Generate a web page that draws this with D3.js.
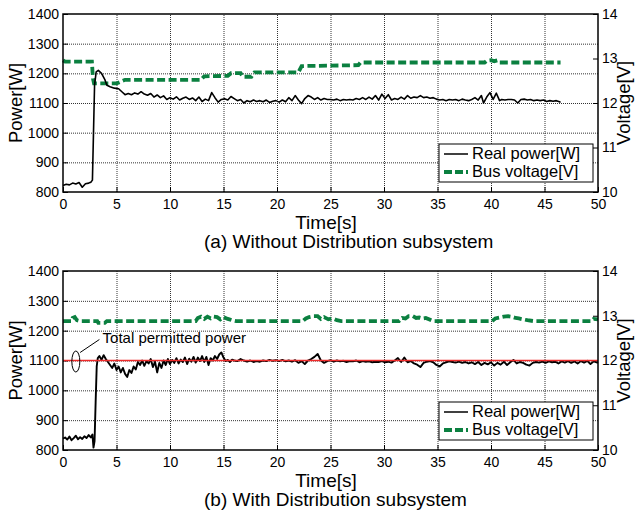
<!DOCTYPE html>
<meta charset="utf-8">
<style>
    body { margin: 0; background: #fff; }
    text { font-family: "Liberation Sans", Arial, sans-serif; fill: #000; }
    .grid line { stroke: #333; stroke-width: 1; stroke-dasharray: 1, 1; }
    .grid path { stroke-width: 0; }
    .axis path { stroke-width: 0; }
    .axis line { stroke: #000; stroke-width: 1; }
    .axis text { font-size: 14px; }
</style>

<body>
    <svg width="635" height="514"></svg>
</body>

<script src="https://d3js.org/d3.v7.min.js"></script>
<script>

    // ticks
    var timeTicks = [0, 5, 10, 15, 20, 25, 30, 35, 40, 45, 50];
    var powerTicks = [800, 900, 1000, 1100, 1200, 1300, 1400];
    var voltTicks = [10, 11, 12, 13, 14];
    var permittedPower = 1100;

    // (a) real power [t, W]
    var powerA = [
        [0, 822], [0.3, 826], [0.6, 824], [0.9, 830], [1.2, 827], [1.5, 832], [1.8, 816], [2.1, 828], [2.4, 830], [2.6, 833],
        [2.75, 840], [2.85, 1000], [2.95, 1160], [3.1, 1205], [3.3, 1210], [3.6, 1200], [3.9, 1180], [4.1, 1160], [4.4, 1155], [4.8, 1150],
        [5.2, 1148], [5.5, 1138], [5.8, 1128], [6.1, 1132], [6.4, 1128], [6.7, 1134], [7.0, 1130], [7.3, 1138], [7.6, 1130], [7.9, 1126],
        [8.2, 1132], [8.5, 1120], [8.8, 1127], [9.1, 1118], [9.4, 1124], [9.7, 1112], [10.0, 1118], [10.3, 1113], [10.6, 1121], [10.9, 1110],
        [11.2, 1116], [11.5, 1120], [11.8, 1112], [12.1, 1117], [12.4, 1108], [12.7, 1120], [13.0, 1105], [13.3, 1113], [13.6, 1108], [13.9, 1135],
        [14.2, 1118], [14.5, 1103], [14.8, 1112], [15.1, 1114], [15.4, 1110], [15.7, 1122], [16.0, 1115], [16.3, 1108], [16.6, 1112], [16.9, 1100],
        [17.2, 1108], [17.5, 1104], [17.8, 1110], [18.1, 1105], [18.4, 1108], [18.7, 1104], [19.0, 1110], [19.3, 1102], [19.6, 1106], [19.9, 1108],
        [20.2, 1103], [20.5, 1110], [20.8, 1104], [21.1, 1118], [21.4, 1108], [21.7, 1125], [22.0, 1110], [22.3, 1098], [22.6, 1115], [22.9, 1125],
        [23.2, 1120], [23.5, 1112], [23.8, 1118], [24.1, 1110], [24.4, 1115], [24.7, 1112], [25.0, 1112], [25.3, 1110], [25.6, 1113], [25.9, 1108],
        [26.2, 1112], [26.5, 1110], [26.8, 1112], [27.1, 1110], [27.4, 1115], [27.7, 1112], [28.0, 1118], [28.3, 1112], [28.6, 1120], [28.9, 1113],
        [29.2, 1125], [29.5, 1110], [29.8, 1130], [30.1, 1115], [30.4, 1128], [30.7, 1110], [31.0, 1115], [31.3, 1112], [31.6, 1120], [31.9, 1113],
        [32.2, 1125], [32.5, 1116], [32.8, 1120], [33.1, 1118], [33.4, 1125], [33.7, 1118], [34.0, 1120], [34.3, 1116], [34.6, 1118], [34.9, 1113],
        [35.2, 1110], [35.5, 1112], [35.8, 1108], [36.1, 1112], [36.4, 1110], [36.7, 1112], [37.0, 1108], [37.3, 1113], [37.6, 1110], [37.9, 1108],
        [38.2, 1112], [38.5, 1118], [38.8, 1110], [39.1, 1125], [39.3, 1100], [39.6, 1120], [39.9, 1135], [40.2, 1112], [40.5, 1133], [40.8, 1108],
        [41.0, 1112], [41.3, 1110], [41.6, 1112], [41.9, 1112], [42.2, 1110], [42.5, 1100], [42.8, 1112], [43.1, 1113], [43.4, 1110], [43.7, 1112],
        [44.0, 1108], [44.3, 1110], [44.6, 1108], [44.9, 1110], [45.2, 1105], [45.5, 1108], [45.8, 1106], [46.1, 1108], [46.4, 1104], [46.5, 1102]
    ];

    // (a) bus voltage [t, V]
    var voltageA = [
        [0, 12.96], [0.2, 12.93], [2.7, 12.93], [2.8, 12.55], [2.9, 12.44], [5.0, 12.44], [5.4, 12.48], [5.8, 12.52],
        [12.9, 12.52], [13.2, 12.6], [15.4, 12.61], [15.7, 12.67], [16.6, 12.67], [16.8, 12.59], [17.6, 12.59], [17.9, 12.69],
        [22.0, 12.69], [22.3, 12.83], [27.6, 12.85], [27.8, 12.91], [39.4, 12.91], [39.6, 12.95], [40.0, 12.96], [40.3, 12.94],
        [40.6, 12.96], [40.8, 12.91], [46.5, 12.91]
    ];

    // (b) real power [t, W]
    var powerB = [
        [0, 838], [0.2, 842], [0.4, 835], [0.6, 845], [0.8, 833], [1.0, 840], [1.2, 848], [1.4, 836], [1.6, 843], [1.8, 837],
        [2.0, 846], [2.2, 840], [2.4, 850], [2.6, 842], [2.75, 852], [2.85, 808], [2.95, 830], [3.05, 960], [3.15, 1080], [3.25, 1108],
        [3.4, 1115], [3.6, 1102], [3.8, 1118], [4.0, 1105], [4.2, 1095], [4.4, 1085], [4.6, 1075], [4.8, 1090], [5.0, 1068], [5.2, 1080],
        [5.4, 1060], [5.6, 1075], [5.8, 1055], [6.0, 1045], [6.2, 1068], [6.4, 1058], [6.6, 1080], [6.8, 1070], [7.0, 1095], [7.2, 1085],
        [7.4, 1100], [7.6, 1082], [7.8, 1098], [8.0, 1090], [8.2, 1105], [8.4, 1078], [8.6, 1096], [8.8, 1060], [9.0, 1092], [9.2, 1075],
        [9.4, 1100], [9.6, 1085], [9.8, 1105], [10.0, 1088], [10.2, 1102], [10.4, 1092], [10.6, 1108], [10.8, 1090], [11.0, 1103], [11.2, 1095],
        [11.4, 1110], [11.6, 1088], [11.8, 1106], [12.0, 1096], [12.2, 1112], [12.4, 1093], [12.6, 1110], [12.8, 1098], [13.0, 1115], [13.2, 1095],
        [13.4, 1112], [13.6, 1085], [13.8, 1108], [14.0, 1100], [14.2, 1115], [14.4, 1105], [14.6, 1120], [14.8, 1127], [15.0, 1110], [15.2, 1098],
        [15.4, 1102], [15.6, 1095], [15.8, 1103], [16.0, 1100], [16.3, 1098], [16.6, 1105], [16.9, 1100], [17.2, 1096], [17.5, 1100], [17.8, 1095],
        [18.1, 1098], [18.4, 1096], [18.7, 1100], [19.0, 1098], [19.3, 1102], [19.6, 1099], [19.9, 1101], [20.2, 1098], [20.5, 1102], [20.8, 1097],
        [21.1, 1100], [21.4, 1096], [21.7, 1101], [22.0, 1092], [22.3, 1098], [22.6, 1088], [22.9, 1100], [23.2, 1105], [23.5, 1112], [23.8, 1122],
        [24.1, 1100], [24.4, 1092], [24.7, 1098], [25.0, 1101], [25.3, 1096], [25.6, 1100], [25.9, 1097], [26.2, 1099], [26.5, 1095], [26.8, 1098],
        [27.1, 1097], [27.4, 1100], [27.7, 1094], [28.0, 1098], [28.3, 1096], [28.6, 1097], [28.9, 1094], [29.2, 1096], [29.5, 1095], [29.8, 1098],
        [30.1, 1094], [30.4, 1096], [30.7, 1093], [31.0, 1100], [31.3, 1108], [31.6, 1095], [31.9, 1110], [32.2, 1094], [32.5, 1098], [32.8, 1090],
        [33.1, 1086], [33.4, 1078], [33.7, 1092], [34.0, 1096], [34.3, 1098], [34.6, 1094], [34.9, 1085], [35.2, 1080], [35.5, 1090], [35.8, 1094],
        [36.1, 1097], [36.4, 1095], [36.7, 1093], [37.0, 1096], [37.3, 1092], [37.6, 1095], [37.9, 1090], [38.2, 1094], [38.5, 1088], [38.8, 1095],
        [39.1, 1085], [39.4, 1092], [39.7, 1087], [40.0, 1094], [40.3, 1083], [40.6, 1092], [40.9, 1086], [41.2, 1096], [41.5, 1085], [41.8, 1094],
        [42.1, 1102], [42.4, 1090], [42.7, 1095], [43.0, 1092], [43.3, 1086], [43.6, 1083], [43.9, 1092], [44.2, 1095], [44.5, 1093], [44.8, 1096],
        [45.1, 1092], [45.4, 1097], [45.7, 1094], [46.0, 1096], [46.3, 1090], [46.6, 1097], [46.9, 1093], [47.2, 1098], [47.5, 1092], [47.8, 1097],
        [48.1, 1090], [48.4, 1098], [48.7, 1093], [49.0, 1099], [49.3, 1088], [49.6, 1097], [50.0, 1092]
    ];

    // (b) bus voltage [t, V]
    var voltageB = [
        [0, 12.88], [0.8, 12.88], [0.9, 12.95], [1.1, 12.97], [1.3, 12.9], [1.6, 12.88], [3.2, 12.88], [3.3, 12.84], [3.9, 12.84],
        [4.1, 12.88], [12.4, 12.88], [12.6, 12.95], [12.9, 12.98], [13.2, 12.93], [13.5, 12.98], [13.8, 12.94], [14.1, 12.98], [14.4, 12.97],
        [14.7, 12.92], [15.0, 12.97], [15.4, 12.93], [15.8, 12.9], [16.2, 12.88], [22.4, 12.88], [22.7, 12.94], [23.0, 12.97], [23.4, 12.99],
        [23.8, 12.99], [24.1, 12.93], [24.4, 12.97], [24.8, 12.92], [25.2, 12.94], [25.6, 12.9], [26.0, 12.88], [31.4, 12.88], [31.7, 12.95],
        [32.0, 12.94], [32.3, 12.99], [32.7, 12.99], [33.0, 12.95], [33.3, 12.96], [33.6, 12.94], [33.9, 12.95], [34.2, 12.92], [34.6, 12.88],
        [40.1, 12.88], [40.4, 12.94], [40.8, 12.96], [41.2, 12.98], [41.6, 12.99], [41.9, 12.98], [42.3, 12.95], [42.6, 12.94], [43.0, 12.92],
        [43.4, 12.9], [44.0, 12.88], [49.4, 12.88], [49.6, 12.93], [50, 12.92]
    ];

    var svg = d3.select("svg");
    var green = "#0b8040";
    var fmt = d3.format("d");

    drawPanel({ top: 14, bottom: 192, power: powerA, volt: voltageA, caption: "(a) Without Distribution subsystem", limit: false });
    drawPanel({ top: 271, bottom: 450, power: powerB, volt: voltageB, caption: "(b) With Distribution subsystem", limit: true });

    function drawPanel(cfg) {
        var left = 63, right = 598;
        var h = cfg.bottom - cfg.top, w = right - left;
        var g = svg.append("g").attr("transform", "translate(" + left + "," + cfg.top + ")");

        var x = d3.scaleLinear().domain([0, 50]).range([0, w]);
        var yP = d3.scaleLinear().domain([800, 1400]).range([h, 0]);
        var yV = d3.scaleLinear().domain([10, 14]).range([h, 0]);

        // dotted grid
        g.append("g").attr("class", "grid")
            .attr("transform", "translate(0," + h + ")")
            .call(d3.axisBottom(x).tickValues(timeTicks.slice(1, -1)).tickSize(-h).tickFormat(""));
        g.append("g").attr("class", "grid")
            .call(d3.axisLeft(yP).tickValues(powerTicks.slice(1, -1)).tickSize(-w).tickFormat(""));

        // axes, ticks pointing inward
        g.append("g").attr("class", "axis")
            .attr("transform", "translate(0," + h + ")")
            .call(d3.axisBottom(x).tickValues(timeTicks).tickFormat(fmt).tickSizeInner(-5).tickSizeOuter(0).tickPadding(7));
        g.append("g").attr("class", "axis")
            .call(d3.axisLeft(yP).tickValues(powerTicks).tickFormat(fmt).tickSizeInner(-5).tickSizeOuter(0).tickPadding(4));
        g.append("g").attr("class", "axis")
            .attr("transform", "translate(" + w + ",0)")
            .call(d3.axisRight(yV).tickValues(voltTicks).tickFormat(fmt).tickSizeInner(-5).tickSizeOuter(0).tickPadding(4));

        // voltage (dashed green)
        var vLine = d3.line().x(function (d) { return x(d[0]); }).y(function (d) { return yV(d[1]); });
        g.append("path").datum(cfg.volt)
            .attr("d", vLine)
            .attr("fill", "none")
            .attr("stroke", green)
            .attr("stroke-width", 3.8)
            .attr("stroke-dasharray", "8,3.5");

        // power (black)
        var pLine = d3.line().x(function (d) { return x(d[0]); }).y(function (d) { return yP(d[1]); });
        g.append("path").datum(cfg.power)
            .attr("d", pLine)
            .attr("fill", "none")
            .attr("stroke", "#000")
            .attr("stroke-width", cfg.limit ? 1.9 : 1.6)
            .attr("stroke-linejoin", "round");

        if (cfg.limit) {
            g.append("line")
                .attr("x1", 0).attr("x2", w)
                .attr("y1", yP(permittedPower)).attr("y2", yP(permittedPower))
                .attr("stroke", "#ee2a2a")
                .attr("stroke-width", 1.3);
            g.append("ellipse")
                .attr("cx", x(1.2)).attr("cy", yP(permittedPower) + 1)
                .attr("rx", 4).attr("ry", 10.5)
                .attr("fill", "none").attr("stroke", "#000").attr("stroke-width", 1);
            g.append("line")
                .attr("x1", x(1.6)).attr("y1", yP(permittedPower) - 8)
                .attr("x2", x(3.4)).attr("y2", yP(permittedPower) - 21)
                .attr("stroke", "#000").attr("stroke-width", 1);
            g.append("text")
                .attr("x", x(3.7)).attr("y", yP(permittedPower) - 18)
                .style("font-size", "15px")
                .text("Total permitted power");
        }

        // frame
        g.append("rect")
            .attr("width", w).attr("height", h)
            .attr("fill", "none").attr("stroke", "#000").attr("stroke-width", 1.5);

        // legend
        var lg = g.append("g").attr("transform", "translate(" + (w - 159) + "," + (h - 48) + ")");
        lg.append("rect").attr("width", 154).attr("height", 38)
            .attr("fill", "#fff").attr("stroke", "#000").attr("stroke-width", 1);
        lg.append("line").attr("x1", 5).attr("x2", 29).attr("y1", 10).attr("y2", 10)
            .attr("stroke", "#000").attr("stroke-width", 1.5);
        lg.append("line").attr("x1", 5).attr("x2", 29).attr("y1", 28).attr("y2", 28)
            .attr("stroke", green).attr("stroke-width", 4).attr("stroke-dasharray", "8,3");
        lg.append("text").attr("x", 33).attr("y", 15).style("font-size", "16.5px").text("Real power[W]");
        lg.append("text").attr("x", 33).attr("y", 33).style("font-size", "16.5px").text("Bus voltage[V]");

        // titles
        g.append("text")
            .attr("x", 326 - left).attr("y", h + 37)
            .attr("text-anchor", "middle")
            .style("font-size", "19px")
            .text("Time[s]");
        g.append("text")
            .attr("x", 204 - left).attr("y", h + 56)
            .style("font-size", "19px")
            .text(cfg.caption);
        g.append("text")
            .attr("transform", "translate(" + (22 - left) + "," + (h / 2) + ") rotate(-90)")
            .attr("text-anchor", "middle")
            .style("font-size", "18.5px")
            .text("Power[W]");
        g.append("text")
            .attr("transform", "translate(" + (630 - left) + "," + (h / 2) + ") rotate(-90)")
            .attr("text-anchor", "middle")
            .style("font-size", "18.5px")
            .text("Voltage[V]");
    }
</script>
